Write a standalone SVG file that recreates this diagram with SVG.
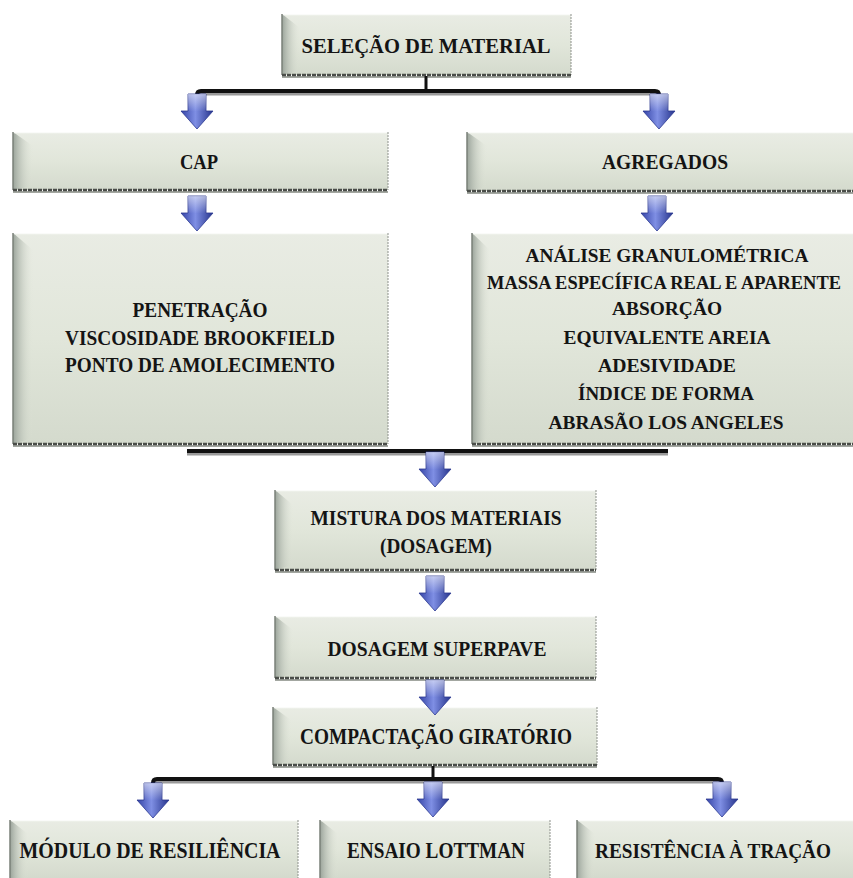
<svg xmlns="http://www.w3.org/2000/svg" width="853" height="878" viewBox="0 0 853 878">
<defs>
<linearGradient id="boxFill" x1="0" y1="0" x2="0" y2="1">
<stop offset="0" stop-color="#e9ece4"/>
<stop offset="0.5" stop-color="#e1e6da"/>
<stop offset="1" stop-color="#d4dacd"/>
</linearGradient>
<linearGradient id="bevel" x1="0" y1="0" x2="1" y2="0">
<stop offset="0" stop-color="#9aa39a"/>
<stop offset="1" stop-color="#dfe4d8" stop-opacity="0"/>
</linearGradient>
<linearGradient id="arrowFill" x1="0" y1="0" x2="1" y2="0">
<stop offset="0" stop-color="#3443a6"/>
<stop offset="0.45" stop-color="#7f8fe4"/>
<stop offset="1" stop-color="#26348c"/>
</linearGradient>
<linearGradient id="arrowTop" x1="0" y1="0" x2="0" y2="1">
<stop offset="0" stop-color="#ffffff" stop-opacity="0.55"/>
<stop offset="0.5" stop-color="#ffffff" stop-opacity="0"/>
</linearGradient>
<g id="arrow">
<path d="M-9,0 H9 V17 H16 L0,35 L-16,17 H-9 Z" fill="url(#arrowFill)" stroke="#2b3890" stroke-width="0.8"/>
<path d="M-9,0 H9 V17 H16 L0,35 L-16,17 H-9 Z" fill="url(#arrowTop)"/>
</g>
</defs>
<style>
.box{fill:url(#boxFill)}
.bev{fill:url(#bevel)}
.edgeL{stroke:#7a8078;stroke-width:1.5}
.edgeR{stroke:#8d918b;stroke-width:1;stroke-dasharray:2 1}
.edgeB{stroke:#4a4d49;stroke-width:2.5;stroke-dasharray:4 1}
.shB{stroke:#a3a7a1;stroke-width:2}
.hi{stroke:#ffffff;stroke-width:1.5;opacity:0.8}
.t{font-family:'Liberation Serif','Times New Roman','DejaVu Serif',serif;font-weight:bold;fill:#141414;text-anchor:middle}
.bar{stroke:#111;stroke-width:4;fill:none}
.barsh{stroke:#9a9a9a;stroke-width:3;fill:none}
</style>
<rect width="853" height="878" fill="#ffffff"/>

<g id="n-selecao">
<rect class="box" x="282" y="14" width="289" height="61"/>
<polygon class="bev" points="282,14 300,28 300,71 282,75"/>
<line class="hi" x1="282" y1="14.5" x2="571" y2="14.5"/>
<line class="edgeL" x1="282" y1="14" x2="282" y2="75"/>
<line class="edgeR" x1="571" y1="14" x2="571" y2="75"/>
<line class="shB" x1="282" y1="77" x2="571" y2="77"/>
<line class="edgeB" x1="282" y1="75" x2="571" y2="75"/>
<text class="t" font-family="Liberation Serif, serif" x="426" y="53" font-size="21" textLength="249" lengthAdjust="spacingAndGlyphs">SELEÇÃO DE MATERIAL</text>
</g>

<g id="n-cap">
<rect class="box" x="13" y="132" width="375" height="58"/>
<polygon class="bev" points="13,132 33,146 33,186 13,190"/>
<line class="hi" x1="13" y1="132.5" x2="388" y2="132.5"/>
<line class="edgeL" x1="13" y1="132" x2="13" y2="190"/>
<line class="edgeR" x1="388" y1="132" x2="388" y2="190"/>
<line class="shB" x1="13" y1="192" x2="388" y2="192"/>
<line class="edgeB" x1="13" y1="190" x2="388" y2="190"/>
<text class="t" font-family="Liberation Serif, serif" x="199" y="169" font-size="20" textLength="38" lengthAdjust="spacingAndGlyphs">CAP</text>
</g>

<g id="n-agregados">
<rect class="box" x="467" y="132" width="386" height="59"/>
<polygon class="bev" points="467,132 487,146 487,187 467,191"/>
<line class="hi" x1="467" y1="132.5" x2="853" y2="132.5"/>
<line class="edgeL" x1="467" y1="132" x2="467" y2="191"/>
<line class="shB" x1="467" y1="193" x2="853" y2="193"/>
<line class="edgeB" x1="467" y1="191" x2="853" y2="191"/>
<text class="t" font-family="Liberation Serif, serif" x="665" y="169" font-size="20" textLength="126" lengthAdjust="spacingAndGlyphs">AGREGADOS</text>
</g>

<g id="n-cap-ensaios">
<rect class="box" x="13" y="233" width="375" height="211"/>
<polygon class="bev" points="13,233 33,250 33,438 13,444"/>
<line class="hi" x1="13" y1="233.5" x2="388" y2="233.5"/>
<line class="edgeL" x1="13" y1="233" x2="13" y2="444"/>
<line class="edgeR" x1="388" y1="233" x2="388" y2="444"/>
<line class="shB" x1="13" y1="446" x2="388" y2="446"/>
<line class="edgeB" x1="13" y1="444" x2="388" y2="444"/>
<text class="t" font-family="Liberation Serif, serif" x="200" y="317" font-size="20" textLength="135" lengthAdjust="spacingAndGlyphs">PENETRAÇÃO</text>
<text class="t" font-family="Liberation Serif, serif" x="200" y="345" font-size="20" textLength="270" lengthAdjust="spacingAndGlyphs">VISCOSIDADE BROOKFIELD</text>
<text class="t" font-family="Liberation Serif, serif" x="200" y="372" font-size="20" textLength="270" lengthAdjust="spacingAndGlyphs">PONTO DE AMOLECIMENTO</text>
</g>

<g id="n-agregados-ensaios">
<rect class="box" x="472" y="233" width="381" height="211"/>
<polygon class="bev" points="472,233 490,250 490,438 472,444"/>
<line class="hi" x1="472" y1="233.5" x2="853" y2="233.5"/>
<line class="edgeL" x1="472" y1="233" x2="472" y2="444"/>
<line class="shB" x1="472" y1="446" x2="853" y2="446"/>
<line class="edgeB" x1="472" y1="444" x2="853" y2="444"/>
<text class="t" font-family="Liberation Serif, serif" x="667" y="262" font-size="19.5" textLength="283" lengthAdjust="spacingAndGlyphs">ANÁLISE GRANULOMÉTRICA</text>
<text class="t" font-family="Liberation Serif, serif" x="664" y="289" font-size="18.5" textLength="354" lengthAdjust="spacingAndGlyphs">MASSA ESPECÍFICA  REAL E APARENTE</text>
<text class="t" font-family="Liberation Serif, serif" x="667" y="315" font-size="19.5" textLength="110" lengthAdjust="spacingAndGlyphs">ABSORÇÃO</text>
<text class="t" font-family="Liberation Serif, serif" x="667" y="344" font-size="19.5" textLength="207" lengthAdjust="spacingAndGlyphs">EQUIVALENTE AREIA</text>
<text class="t" font-family="Liberation Serif, serif" x="667" y="372" font-size="19.5" textLength="138" lengthAdjust="spacingAndGlyphs">ADESIVIDADE</text>
<text class="t" font-family="Liberation Serif, serif" x="666" y="400" font-size="19.5" textLength="176" lengthAdjust="spacingAndGlyphs">ÍNDICE DE FORMA</text>
<text class="t" font-family="Liberation Serif, serif" x="666" y="429" font-size="19.5" textLength="235" lengthAdjust="spacingAndGlyphs">ABRASÃO LOS ANGELES</text>
</g>

<g id="n-mistura">
<rect class="box" x="275" y="490" width="321" height="80"/>
<polygon class="bev" points="275,490 293,505 293,565 275,570"/>
<line class="hi" x1="275" y1="490.5" x2="596" y2="490.5"/>
<line class="edgeL" x1="275" y1="490" x2="275" y2="570"/>
<line class="edgeR" x1="596" y1="490" x2="596" y2="570"/>
<line class="shB" x1="275" y1="572" x2="596" y2="572"/>
<line class="edgeB" x1="275" y1="570" x2="596" y2="570"/>
<text class="t" font-family="Liberation Serif, serif" x="436" y="525" font-size="20" textLength="251" lengthAdjust="spacingAndGlyphs">MISTURA DOS MATERIAIS</text>
<text class="t" font-family="Liberation Serif, serif" x="436" y="553" font-size="20" textLength="112" lengthAdjust="spacingAndGlyphs">(DOSAGEM)</text>
</g>

<g id="n-superpave">
<rect class="box" x="275" y="616" width="321" height="62"/>
<polygon class="bev" points="275,616 293,630 293,674 275,678"/>
<line class="hi" x1="275" y1="616.5" x2="596" y2="616.5"/>
<line class="edgeL" x1="275" y1="616" x2="275" y2="678"/>
<line class="edgeR" x1="596" y1="616" x2="596" y2="678"/>
<line class="shB" x1="275" y1="680" x2="596" y2="680"/>
<line class="edgeB" x1="275" y1="678" x2="596" y2="678"/>
<text class="t" font-family="Liberation Serif, serif" x="437" y="656" font-size="20" textLength="219" lengthAdjust="spacingAndGlyphs">DOSAGEM SUPERPAVE</text>
</g>

<g id="n-compactacao">
<rect class="box" x="273" y="707" width="324" height="58"/>
<polygon class="bev" points="273,707 291,720 291,761 273,765"/>
<line class="hi" x1="273" y1="707.5" x2="597" y2="707.5"/>
<line class="edgeL" x1="273" y1="707" x2="273" y2="765"/>
<line class="edgeR" x1="597" y1="707" x2="597" y2="765"/>
<line class="shB" x1="273" y1="767" x2="597" y2="767"/>
<line class="edgeB" x1="273" y1="765" x2="597" y2="765"/>
<text class="t" font-family="Liberation Serif, serif" x="436" y="744" font-size="23" textLength="272" lengthAdjust="spacingAndGlyphs">COMPACTAÇÃO GIRATÓRIO</text>
</g>

<g id="n-modulo">
<rect class="box" x="10" y="820" width="288" height="58"/>
<polygon class="bev" points="10,820 28,834 28,878 10,878"/>
<line class="hi" x1="10" y1="820.5" x2="298" y2="820.5"/>
<line class="edgeL" x1="10" y1="820" x2="10" y2="878"/>
<line class="edgeR" x1="298" y1="820" x2="298" y2="878"/>
<text class="t" font-family="Liberation Serif, serif" x="150" y="858" font-size="23" textLength="261" lengthAdjust="spacingAndGlyphs">MÓDULO DE RESILIÊNCIA</text>
</g>

<g id="n-lottman">
<rect class="box" x="320" y="820" width="230" height="58"/>
<polygon class="bev" points="320,820 338,834 338,878 320,878"/>
<line class="hi" x1="320" y1="820.5" x2="550" y2="820.5"/>
<line class="edgeL" x1="320" y1="820" x2="320" y2="878"/>
<line class="edgeR" x1="550" y1="820" x2="550" y2="878"/>
<text class="t" font-family="Liberation Serif, serif" x="436" y="858" font-size="23" textLength="178" lengthAdjust="spacingAndGlyphs">ENSAIO LOTTMAN</text>
</g>

<g id="n-tracao">
<rect class="box" x="577" y="820" width="276" height="58"/>
<polygon class="bev" points="577,820 595,834 595,878 577,878"/>
<line class="hi" x1="577" y1="820.5" x2="853" y2="820.5"/>
<line class="edgeL" x1="577" y1="820" x2="577" y2="878"/>
<text class="t" font-family="Liberation Serif, serif" x="713" y="858" font-size="21" textLength="236" lengthAdjust="spacingAndGlyphs">RESISTÊNCIA À TRAÇÃO</text>
</g>

<g id="connectors">
<line x1="426" y1="76" x2="426" y2="92" stroke="#111" stroke-width="3"/>
<path class="barsh" d="M199,96 Q199,94 203,94 H655 Q659,94 659,96"/>
<path class="bar" d="M197,100 V95 Q197,91 201,91 H655 Q659,91 659,95 V100"/>
<use href="#arrow" x="197" y="94"/>
<use href="#arrow" x="659" y="94"/>
<use href="#arrow" x="197" y="196"/>
<use href="#arrow" x="657" y="196"/>
<line class="barsh" x1="187" y1="454" x2="668" y2="454"/>
<line class="bar" x1="187" y1="451" x2="668" y2="451"/>
<use href="#arrow" x="435" y="452"/>
<use href="#arrow" x="435" y="576"/>
<use href="#arrow" x="435" y="680"/>
<line x1="433" y1="766" x2="433" y2="780" stroke="#111" stroke-width="3"/>
<path class="barsh" d="M155,784 Q155,782 159,782 H716 Q720,782 720,784"/>
<path class="bar" d="M153,788 V783 Q153,779 157,779 H718 Q722,779 722,783 V788"/>
<use href="#arrow" x="153" y="783"/>
<use href="#arrow" x="433" y="782"/>
<use href="#arrow" x="722" y="782"/>
</g>
</svg>
